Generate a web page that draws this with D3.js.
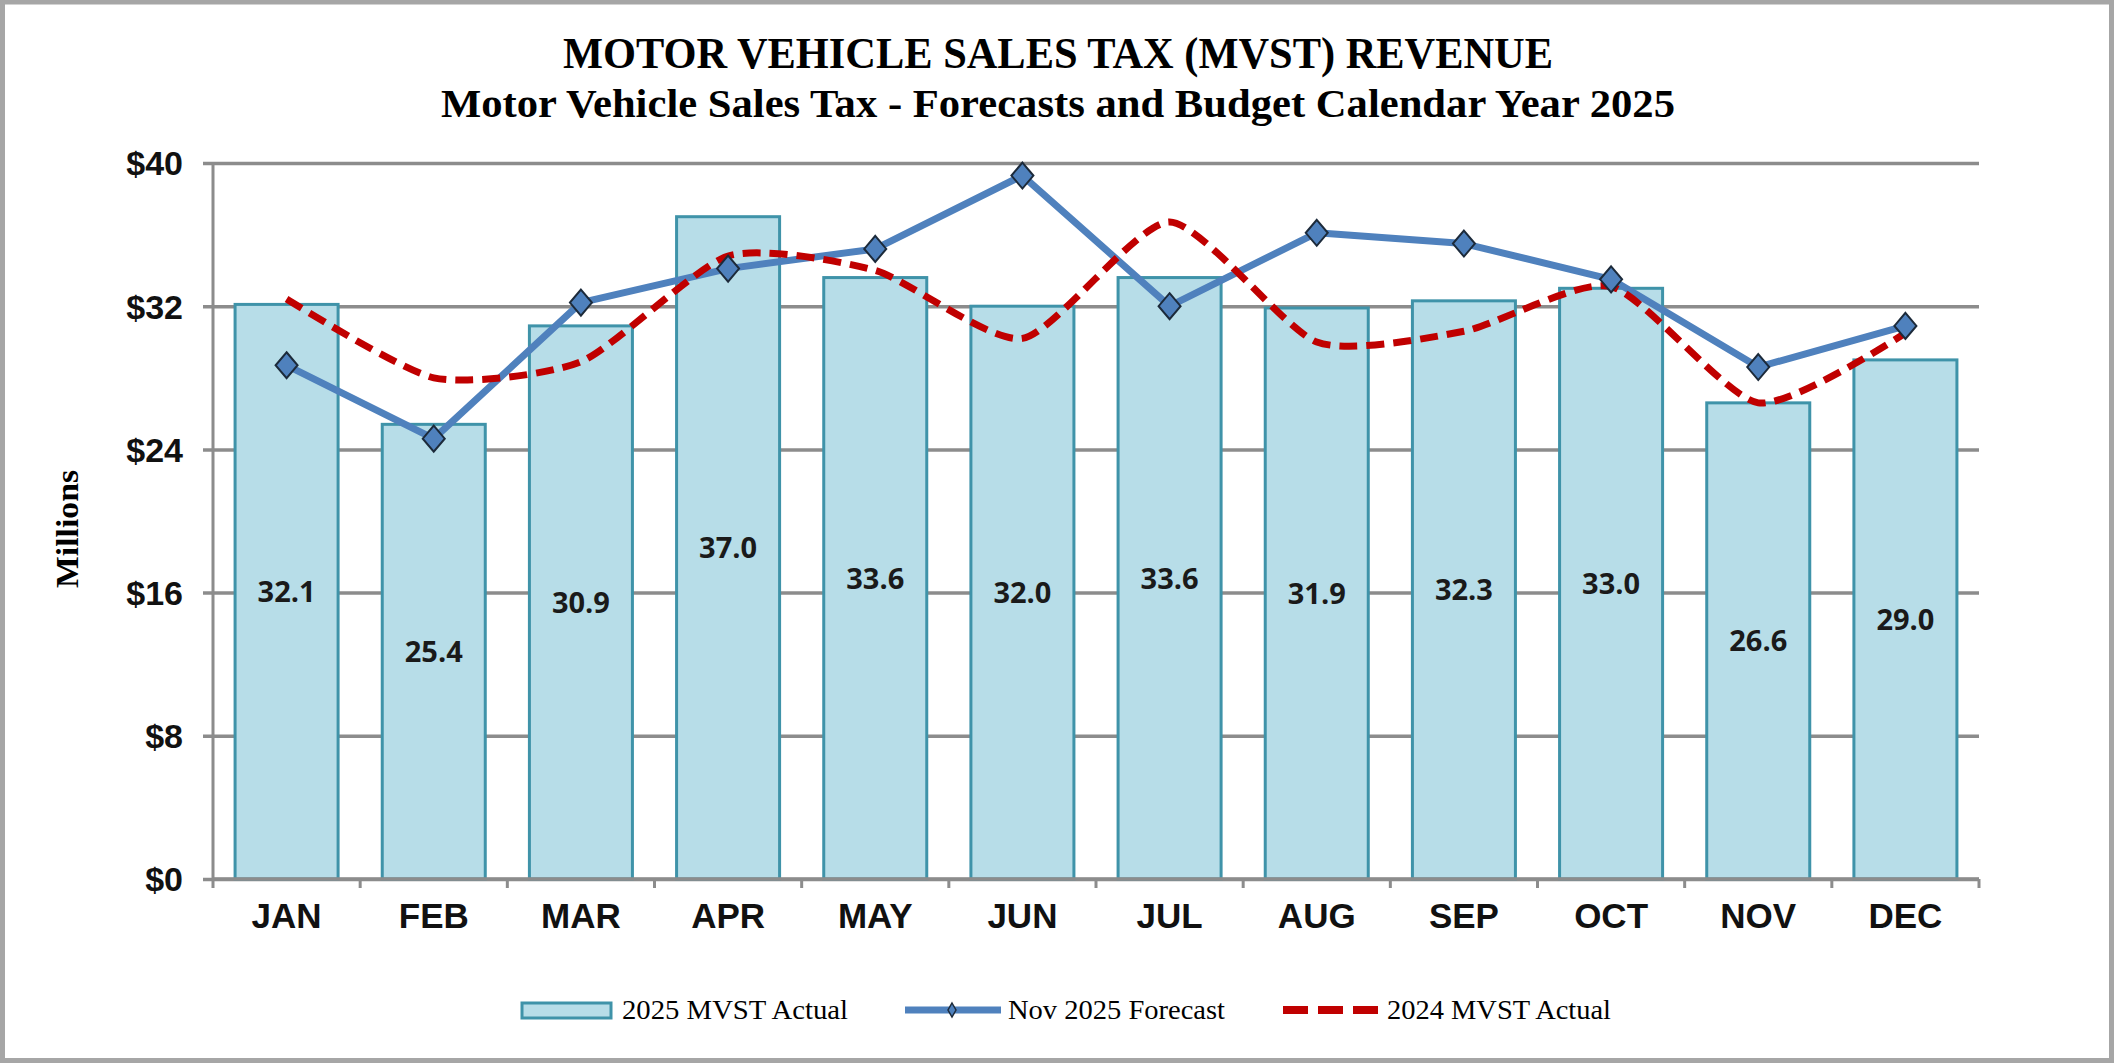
<!DOCTYPE html>
<html>
<head>
<meta charset="utf-8">
<script src="https://cdn.jsdelivr.net/npm/d3@7"></script>
<style>
  html, body { margin: 0; padding: 0; background: #fff; }
  svg { display: block; }
</style>
</head>
<body>
<div id="chart"></div>
<script>
// chart values
const months = ["JAN", "FEB", "MAR", "APR", "MAY", "JUN", "JUL", "AUG", "SEP", "OCT", "NOV", "DEC"];
const actual2025 = [32.1, 25.4, 30.9, 37.0, 33.6, 32.0, 33.6, 31.9, 32.3, 33.0, 26.6, 29.0];
const forecastNov = [28.7, 24.6, 32.2, 34.1, 35.2, 39.3, 32.0, 36.1, 35.5, 33.5, 28.6, 30.9];
const actual2024 = [32.4, 28.0, 28.9, 34.8, 34.0, 30.2, 36.7, 30.0, 30.6, 33.1, 26.6, 30.5];
const yTicks = [0, 8, 16, 24, 32, 40];
const legendLabels = ["2025 MVST Actual", "Nov 2025 Forecast", "2024 MVST Actual"];

const W = 2114, H = 1063;
const plot = { left: 213, right: 1979, top: 163, bottom: 879 };

const svg = d3.select("#chart")
    .append("svg")
    .attr("width", W)
    .attr("height", H);

// outer frame
svg.append("rect")
    .attr("x", 2.5).attr("y", 2)
    .attr("width", W - 5).attr("height", H - 4.5)
    .attr("fill", "#fff")
    .attr("stroke", "#a6a6a6")
    .attr("stroke-width", 5);

// titles
svg.append("text")
    .attr("x", 1058).attr("y", 68)
    .attr("text-anchor", "middle")
    .attr("font-family", "'Liberation Serif', 'Times New Roman', serif")
    .attr("font-weight", "bold")
    .attr("font-size", 44)
    .attr("textLength", 990)
    .attr("lengthAdjust", "spacingAndGlyphs")
    .text("MOTOR VEHICLE SALES TAX (MVST) REVENUE");

svg.append("text")
    .attr("x", 1058).attr("y", 117)
    .attr("text-anchor", "middle")
    .attr("font-family", "'Liberation Serif', 'Times New Roman', serif")
    .attr("font-weight", "bold")
    .attr("font-size", 40)
    .attr("textLength", 1234)
    .attr("lengthAdjust", "spacingAndGlyphs")
    .text("Motor Vehicle Sales Tax - Forecasts and Budget Calendar  Year 2025");

const x = d3.scaleBand()
    .domain(months)
    .range([plot.left, plot.right])
    .paddingInner(0.3)
    .paddingOuter(0.15);

const y = d3.scaleLinear()
    .domain([0, 40])
    .range([plot.bottom, plot.top]);

// gridlines + y labels
const yAxis = d3.axisLeft(y)
    .tickValues(yTicks)
    .tickSize(-(plot.right - plot.left) - 10)
    .tickPadding(20)
    .tickFormat(d => "$" + d);

const gy = svg.append("g")
    .attr("transform", `translate(${plot.left - 10},0)`)
    .call(yAxis);
gy.select(".domain").remove();
gy.selectAll(".tick line")
    .attr("stroke", "#8c8c8c")
    .attr("stroke-width", 3.5);
gy.selectAll(".tick text")
    .attr("x", -20)
    .attr("dy", "0.35em")
    .attr("font-family", "'Liberation Sans', Arial, sans-serif")
    .attr("font-weight", "bold")
    .attr("font-size", 34)
    .attr("fill", "#111");

// y axis line
svg.append("line")
    .attr("x1", plot.left).attr("x2", plot.left)
    .attr("y1", y(40)).attr("y2", plot.bottom + 9)
    .attr("stroke", "#8c8c8c")
    .attr("stroke-width", 3);

svg.append("text")
    .attr("transform", `translate(78,${(plot.top + plot.bottom) / 2 + 8}) rotate(-90)`)
    .attr("text-anchor", "middle")
    .attr("font-family", "'Liberation Serif', 'Times New Roman', serif")
    .attr("font-weight", "bold")
    .attr("font-size", 32)
    .attr("textLength", 118)
    .attr("lengthAdjust", "spacingAndGlyphs")
    .text("Millions");

// bars
svg.selectAll(".bar")
    .data(actual2025)
    .join("rect")
    .attr("class", "bar")
    .attr("x", (d, i) => x(months[i]))
    .attr("y", d => y(d))
    .attr("width", x.bandwidth())
    .attr("height", d => y(0) - y(d))
    .attr("fill", "#b7dde8")
    .attr("stroke", "#3f93a9")
    .attr("stroke-width", 3);

// x axis
const xAxis = d3.axisBottom(x).tickSize(0).tickPadding(24);
const gx = svg.append("g")
    .attr("transform", `translate(0,${plot.bottom})`)
    .call(xAxis);
gx.select(".domain").remove();
gx.selectAll(".tick text")
    .attr("dy", "0.71em")
    .attr("font-family", "'Liberation Sans', Arial, sans-serif")
    .attr("font-weight", "bold")
    .attr("font-size", 35)
    .attr("fill", "#111");

svg.append("line")
    .attr("x1", plot.left).attr("x2", plot.right)
    .attr("y1", plot.bottom).attr("y2", plot.bottom)
    .attr("stroke", "#8c8c8c")
    .attr("stroke-width", 3.5);

svg.selectAll(".xtick")
    .data(months)
    .join("line")
    .attr("class", "xtick")
    .attr("x1", d => x(d) + x.step() * 0.85)
    .attr("x2", d => x(d) + x.step() * 0.85)
    .attr("y1", plot.bottom)
    .attr("y2", plot.bottom + 9)
    .attr("stroke", "#8c8c8c")
    .attr("stroke-width", 3);

// bar value labels
svg.selectAll(".val")
    .data(actual2025)
    .join("text")
    .attr("class", "val")
    .attr("x", (d, i) => x(months[i]) + x.bandwidth() / 2)
    .attr("y", d => y(d / 2))
    .attr("dy", "0.36em")
    .attr("text-anchor", "middle")
    .attr("font-family", "'Open Sans', sans-serif")
    .attr("font-weight", "bold")
    .attr("font-size", 29)
    .attr("fill", "#1a1a1a")
    .text(d => d.toFixed(1));

const cx = i => x(months[i]) + x.bandwidth() / 2;

// forecast line
const lineStraight = d3.line()
    .x((d, i) => cx(i))
    .y(d => y(d));

svg.append("path")
    .datum(forecastNov)
    .attr("d", lineStraight)
    .attr("fill", "none")
    .attr("stroke", "#4f81bd")
    .attr("stroke-width", 7)
    .attr("stroke-linejoin", "round");

// 2024 actual, smoothed dashed
const lineSmooth = d3.line()
    .x((d, i) => cx(i))
    .y(d => y(d))
    .curve(d3.curveCardinal.tension(0.35));

svg.append("path")
    .datum(actual2024)
    .attr("d", lineSmooth)
    .attr("fill", "none")
    .attr("stroke", "#c00000")
    .attr("stroke-width", 7)
    .attr("stroke-dasharray", "18,9");

// diamond markers
const diamond = (w, h) => `M0,${-h}L${w},0L0,${h}L${-w},0Z`;

svg.selectAll(".mark")
    .data(forecastNov)
    .join("path")
    .attr("class", "mark")
    .attr("transform", (d, i) => `translate(${cx(i)},${y(d)})`)
    .attr("d", diamond(11, 13))
    .attr("fill", "#4f81bd")
    .attr("stroke", "#1c2a3a")
    .attr("stroke-width", 2);

// legend
const legY = 1010;
const leg = svg.append("g");
const textFont = "'Liberation Serif', 'Times New Roman', serif";

leg.append("rect")
    .attr("x", 522).attr("y", legY - 7)
    .attr("width", 89).attr("height", 15)
    .attr("fill", "#b7dde8")
    .attr("stroke", "#3f93a9")
    .attr("stroke-width", 3);
leg.append("text")
    .attr("x", 622).attr("y", legY + 9)
    .attr("font-family", textFont).attr("font-size", 28)
    .attr("textLength", 226).attr("lengthAdjust", "spacingAndGlyphs")
    .text(legendLabels[0]);

leg.append("line")
    .attr("x1", 905).attr("x2", 1001)
    .attr("y1", legY).attr("y2", legY)
    .attr("stroke", "#4f81bd").attr("stroke-width", 7);
leg.append("path")
    .attr("transform", `translate(952,${legY})`)
    .attr("d", diamond(4, 7))
    .attr("fill", "#4f81bd")
    .attr("stroke", "#1c2a3a")
    .attr("stroke-width", 1.5);
leg.append("text")
    .attr("x", 1008).attr("y", legY + 9)
    .attr("font-family", textFont).attr("font-size", 28)
    .attr("textLength", 217).attr("lengthAdjust", "spacingAndGlyphs")
    .text(legendLabels[1]);

leg.append("line")
    .attr("x1", 1283).attr("x2", 1378)
    .attr("y1", legY).attr("y2", legY)
    .attr("stroke", "#c00000").attr("stroke-width", 8)
    .attr("stroke-dasharray", "25,10");
leg.append("text")
    .attr("x", 1387).attr("y", legY + 9)
    .attr("font-family", textFont).attr("font-size", 28)
    .attr("textLength", 224).attr("lengthAdjust", "spacingAndGlyphs")
    .text(legendLabels[2]);
</script>
</body>
</html>
